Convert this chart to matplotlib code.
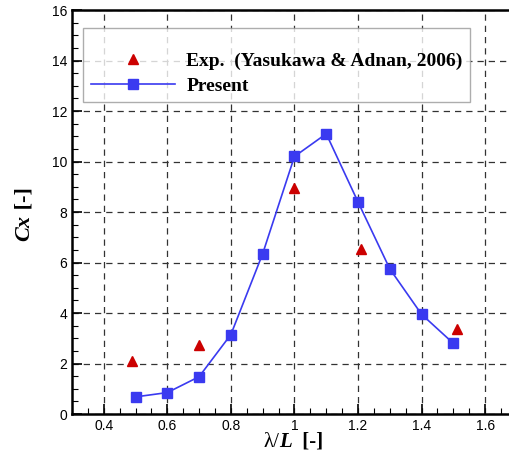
import numpy as np
import matplotlib.pyplot as plt
from matplotlib.ticker import MultipleLocator

# present computation
wl_present = [0.5, 0.6, 0.7, 0.8, 0.9, 1.0, 1.1, 1.2, 1.3, 1.4, 1.5]
cx_present = [0.68, 0.85, 1.48, 3.15, 6.35, 10.2, 11.1, 8.4, 5.75, 3.95, 2.8]

# experiment (Yasukawa & Adnan, 2006)
wl_exp = [0.49, 0.70, 1.00, 1.21, 1.51]
cx_exp = [2.1, 2.75, 8.95, 6.55, 3.35]

fig = plt.figure(figsize=(5.09, 4.57), dpi=100)
ax = fig.add_axes([0.1415, 0.094, 0.874, 0.884])

ax.plot(wl_exp, cx_exp, '^', color='#cc0000', markersize=7, linestyle='none',
        label='Exp.  (Yasukawa & Adnan, 2006)')
ax.plot(wl_present, cx_present, '-s', color='#3a3af0', markersize=7, lw=1.2,
        label='Present')

ax.set_xlim(0.3, 1.7)
ax.set_ylim(0, 16)
ax.xaxis.set_minor_locator(MultipleLocator(0.05))
ax.yaxis.set_major_locator(MultipleLocator(2))
ax.yaxis.set_minor_locator(MultipleLocator(0.5))
ax.set_xticks([0.4, 0.6, 0.8, 1.0, 1.2, 1.4, 1.6])
ax.set_xticklabels(['0.4', '0.6', '0.8', '1', '1.2', '1.4', '1.6'])

ax.grid(True, which='major', linestyle=(0, (5, 4)), color='#333333', lw=0.9)
ax.tick_params(which='both', direction='in', labelsize=10, top=False, right=False)
ax.tick_params(which='major', length=7, width=1.2)
ax.tick_params(which='minor', length=4, width=0.8)
for lab in ax.get_xticklabels() + ax.get_yticklabels():
    lab.set_family('Liberation Sans')
for s in ['left', 'bottom', 'top']:
    ax.spines[s].set_linewidth(1.8)
ax.spines['right'].set_visible(False)

# axis labels, mixed italic/upright pieces
fig.text(0.548, 0.012, 'λ/', fontsize=15, family='Liberation Serif', ha='right', va='bottom')
fig.text(0.548, 0.012, 'L', fontsize=15, family='Liberation Serif', fontweight='bold',
         style='italic', ha='left', va='bottom')
fig.text(0.583, 0.012, ' [-]', fontsize=15, family='Liberation Serif', fontweight='bold',
         ha='left', va='bottom')

fig.text(0.028, 0.53, 'Cx', fontsize=16, family='Liberation Serif', fontweight='bold',
         style='italic', rotation=90, ha='left', va='top')
fig.text(0.028, 0.53, ' [-]', fontsize=16, family='Liberation Serif', fontweight='bold',
         rotation=90, ha='left', va='bottom')

# blank small title gives the extra room above the entries
leg = ax.legend(loc='upper left', bbox_to_anchor=(0.025, 0.955), borderaxespad=0,
                frameon=True, fancybox=False, borderpad=0.4, labelspacing=0.34,
                handlelength=4.3, handletextpad=0.6, title=' ', title_fontsize=7,
                prop={'family': 'Liberation Serif', 'weight': 'bold', 'size': 14})
leg.get_frame().set_edgecolor('#999999')
leg.get_frame().set_linewidth(1.0)

fig.savefig('out.png', dpi=100)
